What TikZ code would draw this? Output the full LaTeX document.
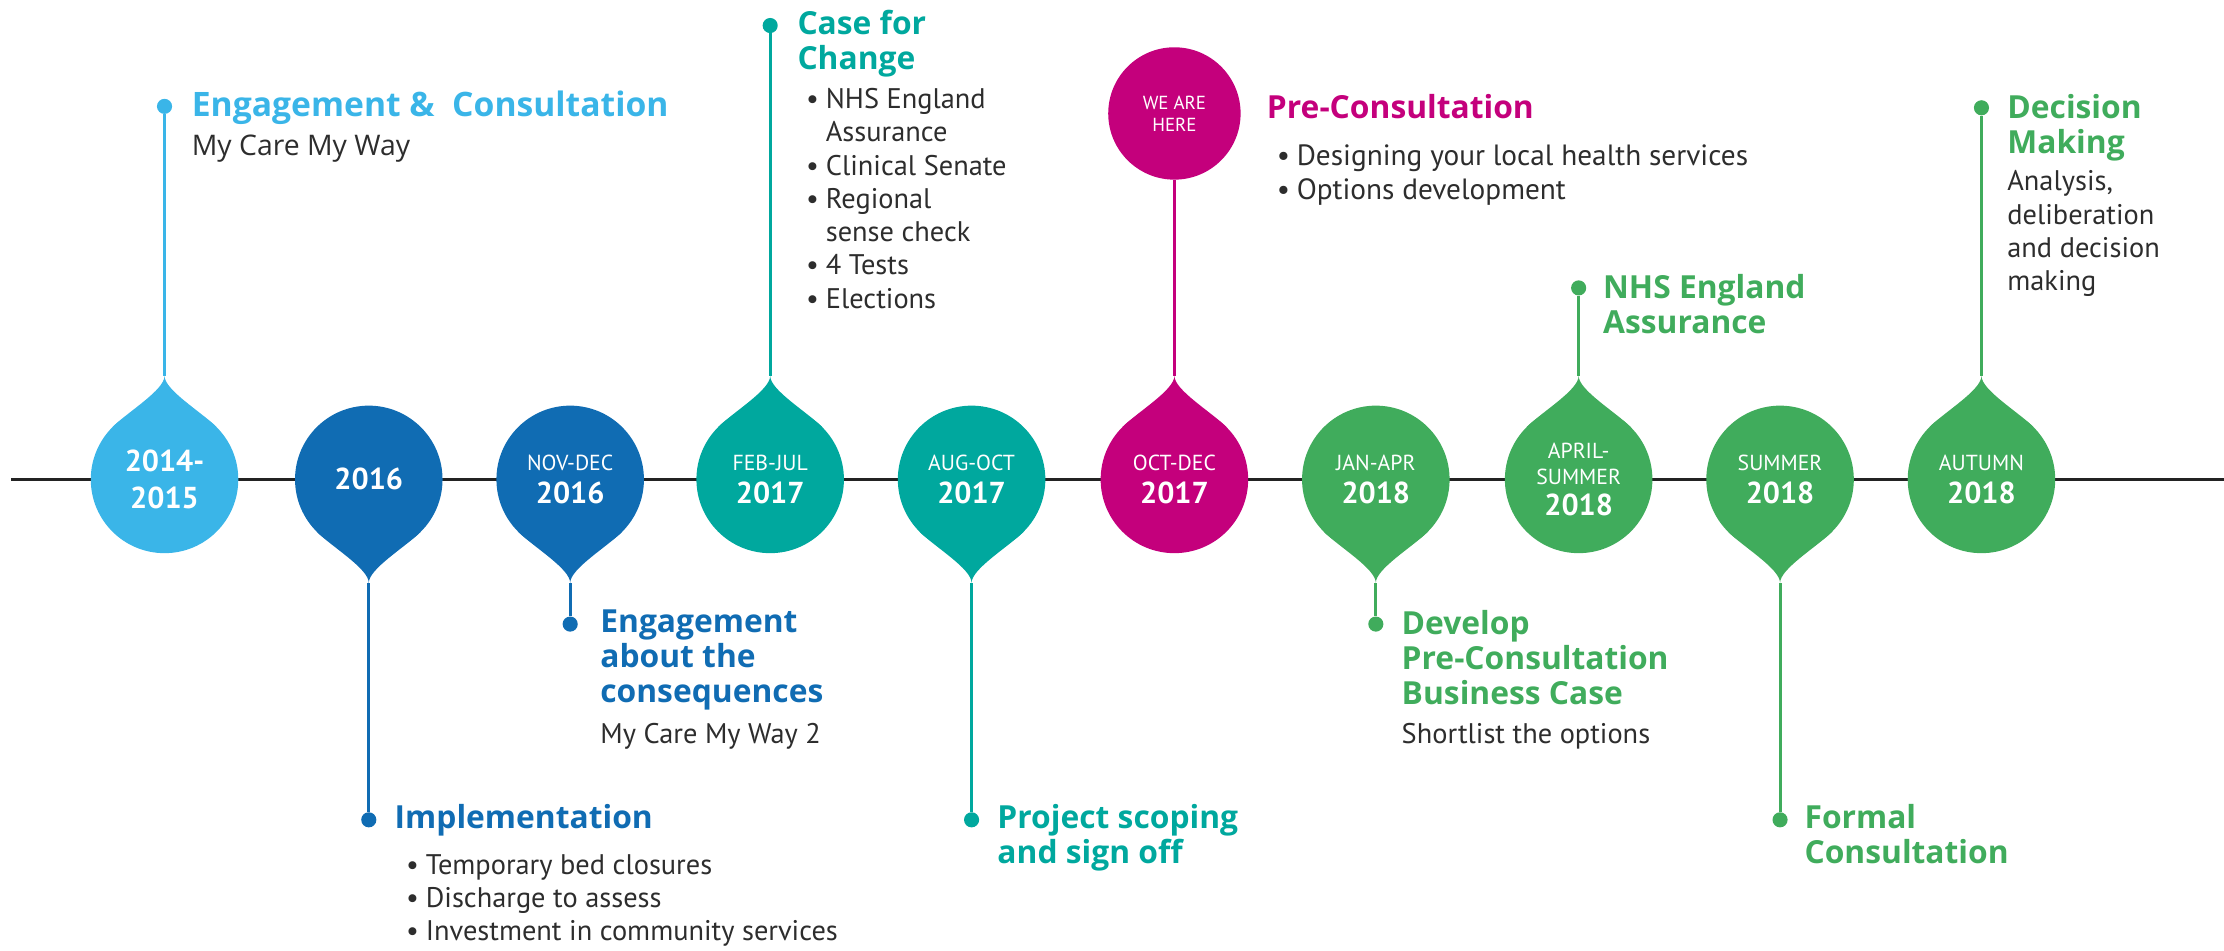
\documentclass[tikz,border=0pt]{standalone}
\usepackage{fontspec}
\setmainfont{PT Sans}
\newfontfamily\headfont{Open Sans}
\usepackage{xcolor}
\usepackage{tikz}
\usetikzlibrary{positioning}

\definecolor{tlSky}{RGB}{58,181,232}
\definecolor{tlBlue}{RGB}{16,108,179}
\definecolor{tlTeal}{RGB}{0,168,158}
\definecolor{tlPink}{RGB}{196,0,124}
\definecolor{tlGreen}{RGB}{64,172,92}
\definecolor{tlText}{RGB}{45,45,45}
\definecolor{tlLine}{RGB}{35,35,35}

\newcommand{\bul}{\makebox[10.5pt][l]{\textbullet}}
\newcommand{\hang}{\hspace*{10.5pt}}
\newcommand{\mon}[1]{{\fontsize{11.5}{13}\selectfont #1}}
\newcommand{\yr}[1]{{\fontsize{16}{18}\selectfont\bfseries #1}}
% tail of a date bubble: x, +1 down / -1 up, colour
\newcommand{\droptail}[3]{\fill[#3, shift={(#1,338)}, yscale=#2] (0,73) .. controls (0,63) and (-25.7,47.8) .. (-36.8,36.8) -- (36.8,36.8) .. controls (25.7,47.8) and (0,63) .. (0,73) -- cycle;}

\begin{document}
\begin{tikzpicture}[x=0.75pt,y=0.75pt,yscale=-1,xscale=1,
  bubble/.style={circle, fill=#1, minimum size=78pt, inner sep=0pt, text=white, align=center, font=\fontsize{11}{13.5}\selectfont},
  dot/.style={circle, fill=#1, minimum size=8pt, inner sep=0pt},
  stem/.style={draw=#1, line width=1.6pt},
  head/.style={anchor=north west, inner sep=0pt, text=#1, align=left, font=\headfont\bfseries\fontsize{16.8}{18.5}\selectfont},
  body/.style={anchor=north west, inner sep=0pt, text=tlText, align=left, font=\fontsize{15}{17.6}\selectfont}]
\useasboundingbox (0,0) rectangle (1568,670);

%Timeline
\coordinate (tl0) at (8,338);
\coordinate (tl1) at (1568,338);
\draw [color=tlLine, line width=1.9pt] (tl0) -- (tl1);

%Bubble tails
\droptail{116}{-1}{tlSky}
\droptail{260}{1}{tlBlue}
\droptail{402}{1}{tlBlue}
\droptail{543}{-1}{tlTeal}
\droptail{685}{1}{tlTeal}
\droptail{828}{-1}{tlPink}
\droptail{970}{1}{tlGreen}
\droptail{1113}{-1}{tlGreen}
\droptail{1255}{1}{tlGreen}
\droptail{1397}{-1}{tlGreen}

%Tail tips
\coordinate (d1tip) at (116,265);
\coordinate (d2tip) at (260,411);
\coordinate (d3tip) at (402,411);
\coordinate (d4tip) at (543,265);
\coordinate (d5tip) at (685,411);
\coordinate (d6tip) at (828,265);
\coordinate (d7tip) at (970,411);
\coordinate (d8tip) at (1113,265);
\coordinate (d9tip) at (1255,411);
\coordinate (d10tip) at (1397,265);

%Date bubbles
\node [bubble=tlSky] (d1) at (116,338) {\yr{2014-}\\[6pt]\yr{2015}};
\node [bubble=tlBlue] (d2) at (260,338) {\yr{2016}};
\node [bubble=tlBlue] (d3) at (402,338) {\mon{NOV-DEC}\\[4pt]\yr{2016}};
\node [bubble=tlTeal] (d4) at (543,338) {\mon{FEB-JUL}\\[4pt]\yr{2017}};
\node [bubble=tlTeal] (d5) at (685,338) {\mon{AUG-OCT}\\[4pt]\yr{2017}};
\node [bubble=tlPink] (d6) at (828,338) {\mon{OCT-DEC}\\[4pt]\yr{2017}};
\node [bubble=tlGreen] (d7) at (970,338) {\mon{JAN-APR}\\[4pt]\yr{2018}};
\node [bubble=tlGreen] (d8) at (1113,338) {\mon{APRIL-}\\\mon{SUMMER}\\[3pt]\yr{2018}};
\node [bubble=tlGreen] (d9) at (1255,338) {\mon{SUMMER}\\[4pt]\yr{2018}};
\node [bubble=tlGreen] (d10) at (1397,338) {\mon{AUTUMN}\\[4pt]\yr{2018}};

%We are here
\node [circle, fill=tlPink, minimum size=70pt, inner sep=0pt, text=white, align=center, font=\fontsize{10}{11.5}\selectfont] (here) at (828,80) {WE ARE\\HERE};

%Dots
\node [dot=tlSky] (e1) at (116,75) {};
\node [dot=tlBlue] (e2) at (260,578) {};
\node [dot=tlBlue] (e3) at (402,440) {};
\node [dot=tlTeal] (e4) at (543,18) {};
\node [dot=tlTeal] (e5) at (685,578) {};
\node [dot=tlGreen] (e7) at (970,440) {};
\node [dot=tlGreen] (e8) at (1113,203) {};
\node [dot=tlGreen] (e9) at (1255,578) {};
\node [dot=tlGreen] (e10) at (1397,76) {};

%Stems
\draw [stem=tlSky] (e1) -- (d1tip);
\draw [stem=tlBlue] (e2) -- (d2tip);
\draw [stem=tlBlue] (e3) -- (d3tip);
\draw [stem=tlTeal] (e4) -- (d4tip);
\draw [stem=tlTeal] (e5) -- (d5tip);
\draw [stem=tlPink] (here) -- (d6tip);
\draw [stem=tlGreen] (e7) -- (d7tip);
\draw [stem=tlGreen] (e8) -- (d8tip);
\draw [stem=tlGreen] (e9) -- (d9tip);
\draw [stem=tlGreen] (e10) -- (d10tip);

% Text Node
\node [head=tlSky, font=\headfont\bfseries\fontsize{17.8}{19}\selectfont] (t1) at (135,64) {Engagement \&\ \ Consultation};
% Text Node
\node [body, font=\headfont\fontsize{15}{17}\selectfont] (t1b) at (135,95) {My Care My Way};
% Text Node
\node [head=tlBlue] (t2) at (278,567) {Implementation};
% Text Node
\node [body] (t2b) at (286,602) {\bul Temporary bed closures\\\bul Discharge to assess\\\bul Investment in community services};
% Text Node
\node [head=tlBlue] (t3) at (423,430) {Engagement\\about the\\consequences};
% Text Node
\node [body] (t3b) at (423,510) {My Care My Way 2};
% Text Node
\node [head=tlTeal] (t4) at (562,7) {Case for\\Change};
% Text Node
\node [body] (t4b) at (568,62) {\bul NHS England\\\hang Assurance\\\bul Clinical Senate\\\bul Regional\\\hang sense check\\\bul 4 Tests\\\bul Elections};
% Text Node
\node [head=tlTeal] (t5) at (703,567) {Project scoping\\and sign off};
% Text Node
\node [head=tlPink] (t6) at (893,66) {Pre-Consultation};
% Text Node
\node [body, font=\fontsize{15.5}{17.6}\selectfont] (t6b) at (900,102) {\bul Designing your local health services\\\bul Options development};
% Text Node
\node [head=tlGreen] (t7) at (988,430) {Develop\\Pre-Consultation\\Business Case};
% Text Node
\node [body] (t7b) at (988,510) {Shortlist the options};
% Text Node
\node [head=tlGreen] (t8) at (1130,193) {NHS England\\Assurance};
% Text Node
\node [head=tlGreen] (t9) at (1272,567) {Formal\\Consultation};
% Text Node
\node [head=tlGreen] (t10) at (1415,66) {Decision\\Making};
% Text Node
\node [body] (t10b) at (1415,120) {Analysis,\\deliberation\\and decision\\making};
\end{tikzpicture}
\end{document}
